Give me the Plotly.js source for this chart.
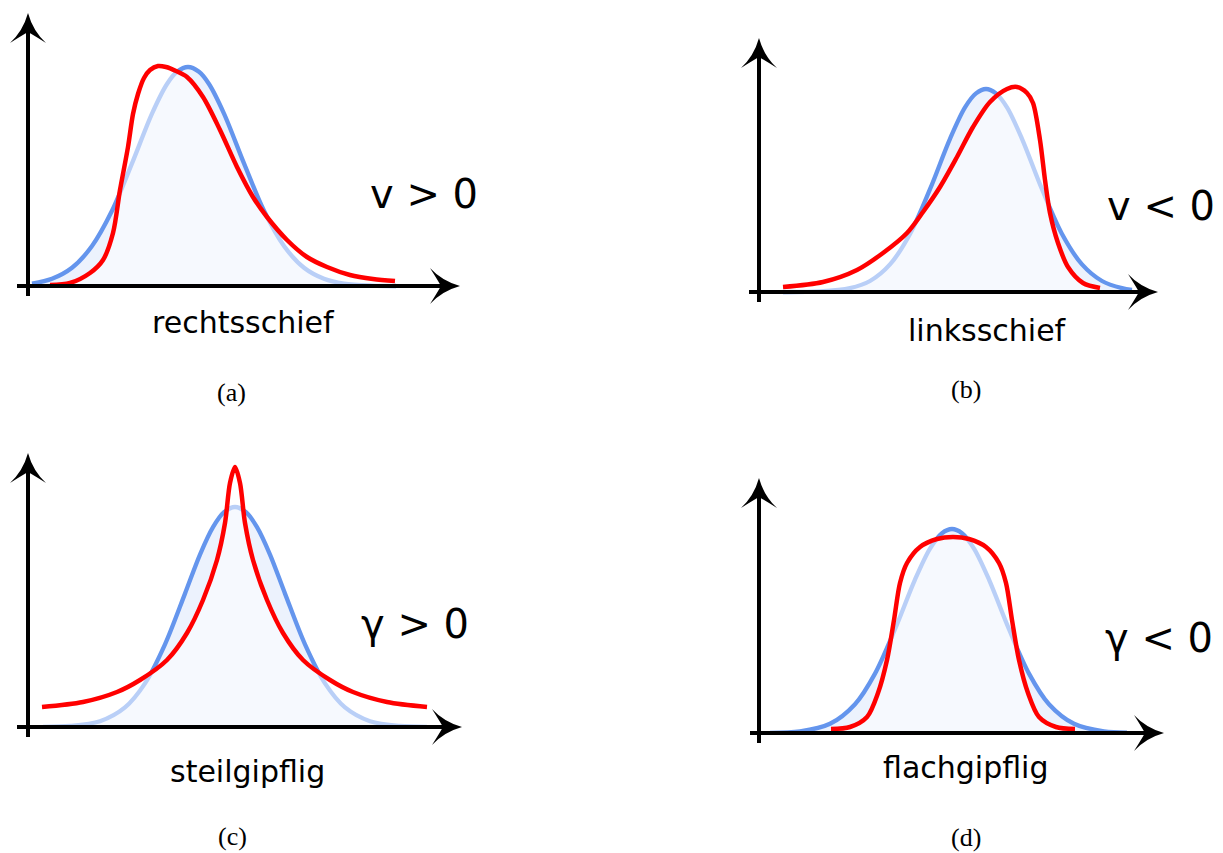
<!DOCTYPE html>
<html><head><meta charset="utf-8">
<script src="https://cdn.plot.ly/plotly-3.0.1.min.js"></script>
<style>html,body{margin:0;padding:0;background:#fff;}#chart{width:1223px;height:853px;}</style>
</head><body><div id="chart"></div>
<script>
// ---- data ----
const panelLabels = ['(a)', '(b)', '(c)', '(d)'];
const shapeLabels = ['rechtsschief', 'linksschief', 'steilgipflig', 'flachgipflig'];
const measureLabels = ['v &gt; 0', 'v &lt; 0', 'γ &gt; 0', 'γ &lt; 0'];

// (a) right-skewed
const aNormX = [0.1,0.6,1.1,1.6,2.1,2.6,3.1,3.475,3.725,4.0,4.275,4.525,4.9,5.4,5.9,6.4,6.9,7.4,7.9,8.6,9.2];
const aNormY = [0.012,0.036,0.091,0.2,0.376,0.613,0.862,1.01,1.071,1.095,1.071,1.01,0.862,0.613,0.376,0.2,0.091,0.036,0.012,0.002,0.0];
const aSkewX = [0.55,1.05,1.55,1.875,2.125,2.3,2.5,2.625,2.75,2.9,3.05,3.25,3.45,3.7,3.975,4.375,4.8,5.225,5.625,5.975,6.475,6.975,7.475,8.05,8.625,9.175];
const aSkewY = [0.005,0.015,0.065,0.13,0.265,0.48,0.695,0.86,0.96,1.04,1.08,1.1,1.095,1.075,1.045,0.945,0.78,0.595,0.445,0.345,0.23,0.145,0.095,0.055,0.035,0.025];

// (b) left-skewed
const bNormX = [0.6,1.525,2.275,2.775,3.275,3.775,4.275,4.775,5.15,5.425,5.675,5.925,6.2,6.575,7.075,7.575,8.075,8.575,9.075,9.325];
const bNormY = [0.0,0.003,0.019,0.055,0.138,0.29,0.514,0.766,0.923,0.993,1.015,0.993,0.923,0.766,0.514,0.29,0.138,0.055,0.019,0.01];
const bSkewX = [0.6,1.6,2.45,3.1,3.7,4.1,4.525,4.95,5.35,5.775,6.2,6.45,6.7,6.85,7.025,7.15,7.275,7.475,7.725,8.1,8.525];
const bSkewY = [0.025,0.05,0.11,0.195,0.295,0.4,0.525,0.675,0.825,0.95,1.015,1.025,0.995,0.945,0.76,0.56,0.395,0.245,0.125,0.045,0.02];

// (c) leptokurtic
const cNormX = [0.375,1.05,1.8,2.425,2.925,3.425,3.925,4.3,4.625,4.9,5.175,5.45,5.725,6.05,6.425,6.925,7.425,7.925,8.55,9.3,9.975];
const cNormY = [0.001,0.005,0.029,0.098,0.218,0.413,0.667,0.862,0.999,1.074,1.1,1.074,0.999,0.862,0.667,0.413,0.218,0.098,0.029,0.005,0.001];
const cKurtX = [0.35,1.375,2.225,2.8,3.475,3.975,4.375,4.725,4.925,5.05,5.175,5.3,5.425,5.625,5.975,6.375,6.875,7.55,8.125,8.975,9.975];
const cKurtY = [0.1,0.125,0.175,0.235,0.335,0.47,0.635,0.835,1.02,1.22,1.3,1.22,1.02,0.835,0.635,0.47,0.335,0.235,0.175,0.125,0.1];

// (d) platykurtic
const dNormX = [0.275,1.025,1.775,2.4,2.9,3.4,3.9,4.275,4.575,4.825,5.075,5.375,5.75,6.25,6.75,7.25,7.875,8.625,9.2];
const dNormY = [0.001,0.008,0.046,0.144,0.297,0.519,0.767,0.922,0.999,1.02,0.999,0.922,0.767,0.519,0.297,0.144,0.046,0.008,0.002];
const dKurtX = [1.8,2.275,2.7,2.975,3.2,3.375,3.525,3.7,4.025,4.45,4.85,5.25,5.675,6.0,6.175,6.325,6.5,6.725,7.0,7.425,7.9];
const dKurtY = [0.02,0.03,0.08,0.2,0.365,0.565,0.75,0.85,0.93,0.97,0.98,0.97,0.93,0.85,0.75,0.565,0.365,0.2,0.08,0.03,0.02];

// ---- layout geometry (pixels) ----
const W = 1223, H = 853, SX = 40, SY = 200;
const geom = [
  {ox:28,  oy:286, box:[0,0,490,305],      xEnd:[17,460],  yEnd:[296,13],  lab:[243,322], meas:[424,194], cap:[231,392]},
  {ox:759, oy:292, box:[740,20,1223,310],  xEnd:[749,1158], yEnd:[302,38], lab:[987,330], meas:[1161,206], cap:[966,389]},
  {ox:28,  oy:727, box:[0,440,490,750],    xEnd:[17,462],  yEnd:[737,453], lab:[247,771], meas:[415,624], cap:[232,836]},
  {ox:759, oy:733, box:[740,460,1223,755], xEnd:[750,1164], yEnd:[743,478], lab:[965,767], meas:[1159,638], cap:[966,837]}
];
const series = [
  [aNormX, aNormY, aSkewX, aSkewY],
  [bNormX, bNormY, bSkewX, bSkewY],
  [cNormX, cNormY, cKurtX, cKurtY],
  [dNormX, dNormY, dKurtX, dKurtY]
];

const PX = v => v / W;
const PY = v => 1 - v / H;

const BLUE = '#6495ED', RED = '#ff0000';
const traces = [];
const layout = {
  width: W, height: H, margin: {l:0, r:0, t:0, b:0},
  paper_bgcolor: '#ffffff', plot_bgcolor: 'rgba(0,0,0,0)', showlegend: false,
  shapes: [], annotations: []
};

function arrowPath(tx, ty, dir) {
  const pts = [[0,0],[-18,5],[-30,18],[-23,7],[-19,0],[-23,-7],[-30,-18],[-18,-5]];
  const conv = ([u, v]) => dir === 'right' ? [tx + u, ty - v] : [tx + v, ty - u];
  const p = pts.map(conv).map(([x, y]) => [PX(x).toFixed(6), PY(y).toFixed(6)]);
  return `M${p[0][0]},${p[0][1]} Q${p[1][0]},${p[1][1]} ${p[2][0]},${p[2][1]} Q${p[3][0]},${p[3][1]} ${p[4][0]},${p[4][1]} Q${p[5][0]},${p[5][1]} ${p[6][0]},${p[6][1]} Q${p[7][0]},${p[7][1]} ${p[0][0]},${p[0][1]} Z`;
}

geom.forEach((g, i) => {
  const sfx = i === 0 ? '' : String(i + 1);
  const xa = 'x' + sfx, ya = 'y' + sfx;
  const [bx0, by0, bx1, by1] = g.box;
  layout['xaxis' + sfx] = {domain:[PX(bx0), PX(bx1)], range:[(bx0 - g.ox)/SX, (bx1 - g.ox)/SX], visible:false, fixedrange:true, anchor: ya};
  layout['yaxis' + sfx] = {domain:[PY(by1), PY(by0)], range:[(g.oy - by1)/SY, (g.oy - by0)/SY], visible:false, fixedrange:true, anchor: xa};
  const [nx, ny, rx, ry] = series[i];
  traces.push({type:'scatter', mode:'lines', x:nx, y:ny, xaxis:xa, yaxis:ya,
    line:{color:BLUE, width:4.3, shape:'spline', smoothing:0.9},
    fill:'tozeroy', fillcolor:'rgba(100,149,237,0.12)', hoverinfo:'skip'});
  traces.push({type:'scatter', mode:'lines', x:rx, y:ry, xaxis:xa, yaxis:ya,
    line:{color:RED, width:4.5, shape:'spline', smoothing:0.85},
    fill:'tozeroy', fillcolor:'rgba(255,255,255,0.55)', hoverinfo:'skip'});

  layout.shapes.push({type:'line', xref:'paper', yref:'paper', layer:'above',
    x0:PX(g.xEnd[0]), x1:PX(g.xEnd[1]-18), y0:PY(g.oy), y1:PY(g.oy), line:{color:'#000', width:4}});
  layout.shapes.push({type:'line', xref:'paper', yref:'paper', layer:'above',
    x0:PX(g.ox), x1:PX(g.ox), y0:PY(g.yEnd[0]), y1:PY(g.yEnd[1]+18), line:{color:'#000', width:4}});
  layout.shapes.push({type:'path', xref:'paper', yref:'paper', layer:'above',
    path:arrowPath(g.xEnd[1], g.oy, 'right'), fillcolor:'#000', line:{width:0}});
  layout.shapes.push({type:'path', xref:'paper', yref:'paper', layer:'above',
    path:arrowPath(g.ox, g.yEnd[1], 'up'), fillcolor:'#000', line:{width:0}});

  layout.annotations.push({xref:'paper', yref:'paper', x:PX(g.lab[0]), y:PY(g.lab[1]), xanchor:'center', yanchor:'middle',
    text:shapeLabels[i], showarrow:false, font:{family:'DejaVu Sans', size:30, color:'#000'}});
  layout.annotations.push({xref:'paper', yref:'paper', x:PX(g.meas[0]), y:PY(g.meas[1]), xanchor:'center', yanchor:'middle',
    text:measureLabels[i], showarrow:false, font:{family:'DejaVu Sans', size:40, color:'#000'}});
  layout.annotations.push({xref:'paper', yref:'paper', x:PX(g.cap[0]), y:PY(g.cap[1]), xanchor:'center', yanchor:'middle',
    text:panelLabels[i], showarrow:false, font:{family:'Liberation Serif', size:26, color:'#000'}});
});

Plotly.newPlot('chart', traces, layout, {displayModeBar:false, staticPlot:true});
</script>
</body></html>
